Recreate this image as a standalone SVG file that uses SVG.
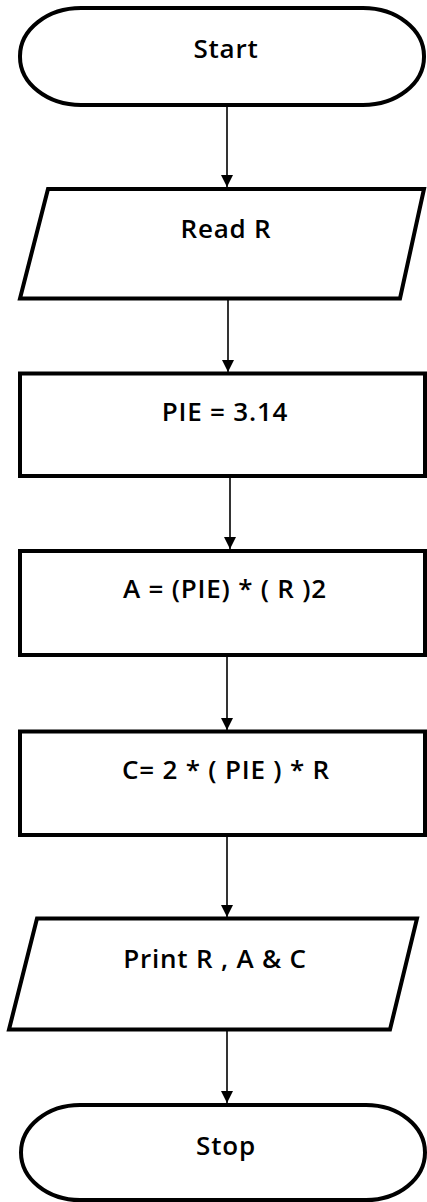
<svg xmlns="http://www.w3.org/2000/svg" width="427" height="1202" viewBox="0 0 427 1202">
<style>
.shape{fill:#ffffff;stroke:#000000;stroke-width:4}
.lbl{font-family:"Open Sans","Liberation Sans",sans-serif;font-weight:600;font-size:26px;letter-spacing:0.8px;fill:#000000;text-anchor:middle}
.conn{stroke:#000000;stroke-width:1.6;fill:none;marker-end:url(#ah)}
</style>
<defs>
<marker id="ah" viewBox="0 0 12 12" refX="12" refY="6" markerWidth="12" markerHeight="12" markerUnits="userSpaceOnUse" orient="auto">
<path d="M0,0 L12,6 L0,12 Z" fill="#000000"/>
</marker>
</defs>
<rect width="427" height="1202" fill="#ffffff"/>
<g id="connectors">
<line class="conn" x1="227" y1="107" x2="227" y2="187"/>
<line class="conn" x1="228" y1="300" x2="228" y2="372"/>
<line class="conn" x1="230" y1="478" x2="230" y2="549"/>
<line class="conn" x1="227" y1="657" x2="227" y2="730"/>
<line class="conn" x1="227" y1="837" x2="227" y2="917"/>
<line class="conn" x1="227" y1="1031" x2="227" y2="1103"/>
</g>
<g id="start">
<rect class="shape" x="20" y="8" width="404" height="97" rx="61" ry="48"/>
<text class="lbl" x="226" y="58">Start</text>
</g>
<g id="read">
<polygon class="shape" points="48,189 424,189 400,298.5 20,298.5"/>
<text class="lbl" x="226" y="238">Read R</text>
</g>
<g id="pie">
<rect class="shape" x="20" y="373.5" width="405" height="102.5"/>
<text class="lbl" x="225" y="421">PIE = 3.14</text>
</g>
<g id="area">
<rect class="shape" x="20" y="551" width="405" height="104"/>
<text class="lbl" x="225" y="598">A = (PIE) * ( R )2</text>
</g>
<g id="circ">
<rect class="shape" x="20" y="731.5" width="405" height="103.5"/>
<text class="lbl" x="226" y="779">C= 2 * ( PIE ) * R</text>
</g>
<g id="print">
<polygon class="shape" points="37,918.5 417,918.5 390,1029.5 9,1029.5"/>
<text class="lbl" x="215" y="968">Print R , A &amp; C</text>
</g>
<g id="stop">
<rect class="shape" x="21" y="1105" width="404" height="95" rx="59" ry="47.5"/>
<text class="lbl" x="226" y="1155">Stop</text>
</g>
</svg>
